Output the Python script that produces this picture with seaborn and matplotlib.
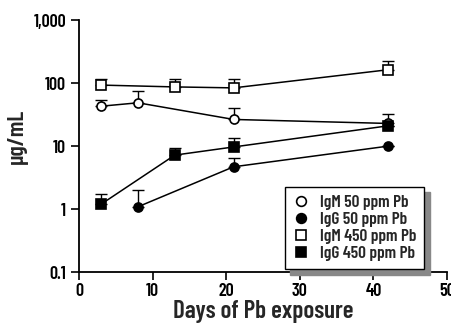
import numpy as np
import pandas as pd
import matplotlib
matplotlib.use("Agg")
import matplotlib.pyplot as plt
from matplotlib.lines import Line2D
import seaborn as sns

# data
igm50_days = [3, 8, 21, 42]
igm50_vals = [43, 48.7, 26.5, 22.9]
igm50_err = [53.7, 74.7, 40.6, 32.2]

igg50_days = [8, 21, 42]
igg50_vals = [1.09, 4.7, 10.0]
igg50_err = [2.0, 6.4, 10.0]

igm450_days = [3, 13, 21, 42]
igm450_vals = [93, 87, 84, 163]
igm450_err = [115, 115, 115, 226]

igg450_days = [3, 13, 21, 42]
igg450_vals = [1.2, 7.2, 9.7, 21.0]
igg450_err = [1.71, 9.2, 13.3, 21.0]

labels = ["IgM 50 ppm Pb", "IgG 50 ppm Pb", "IgM 450 ppm Pb", "IgG 450 ppm Pb"]
x_ticks = [0, 10, 20, 30, 40, 50]
y_ticks = [0.1, 1, 10, 100, 1000]
y_ticklabels = ["0.1", "1", "10", "100", "1,000"]

sns.set_style("ticks")
plt.rcParams['font.family'] = ['Barlow Condensed', 'DejaVu Sans']
plt.rcParams['font.weight'] = 600

fig = plt.figure(figsize=(4.52, 3.24), dpi=100)
ax = fig.add_axes([0.175, 0.160, 0.814, 0.778])

series = [
    (igm50_days, igm50_vals, igm50_err, 'o', 'white'),
    (igg50_days, igg50_vals, igg50_err, 'o', 'black'),
    (igm450_days, igm450_vals, igm450_err, 's', 'white'),
    (igg450_days, igg450_vals, igg450_err, 's', 'black'),
]

for days, vals, err, mk, fc in series:
    vals_a = np.array(vals)
    up = np.array(err) - vals_a
    ax.errorbar(days, vals_a, yerr=[np.zeros_like(up), up], fmt='none',
                ecolor='black', elinewidth=1.0, capsize=4, capthick=1.0, zorder=2)
    df = pd.DataFrame({"day": days, "val": vals})
    sns.lineplot(data=df, x="day", y="val", ax=ax, color='black', linewidth=1.1,
                 marker=mk, markersize=6.5, markerfacecolor=fc,
                 markeredgecolor='black', markeredgewidth=1.2, zorder=3)

ax.set_yscale('log')
ax.set_ylim(0.1, 1000)
ax.set_xlim(0, 50)
ax.set_xticks(x_ticks)
ax.set_xticklabels([str(t) for t in x_ticks])
ax.set_yticks(y_ticks)
ax.set_yticklabels(y_ticklabels)
ax.yaxis.set_minor_locator(matplotlib.ticker.NullLocator())
ax.tick_params(axis='both', direction='out', length=6, width=1.2, labelsize=13, colors='black')
ax.tick_params(axis='x', pad=2)
for s in ['left', 'bottom']:
    ax.spines[s].set_linewidth(1.3)
    ax.spines[s].set_color('black')
sns.despine(ax=ax)
ax.set_xlabel("Days of Pb exposure", fontsize=18, fontweight=600, labelpad=0)
ax.set_ylabel("μg/mL", fontsize=17, fontweight=600)
ax.yaxis.set_label_coords(-0.14, 0.54)

handles = [Line2D([], [], linestyle='none', marker=mk, markersize=7, markerfacecolor=fc,
                  markeredgecolor='black', markeredgewidth=1.2)
           for _, _, _, mk, fc in series]
leg = ax.legend(handles, labels, loc='upper right', bbox_to_anchor=(0.962, 0.373),
                frameon=True, fancybox=False, fontsize=12.5, handlelength=1.0,
                handletextpad=0.6, labelspacing=0.12, borderpad=0.45,
                shadow={'color': '#888888', 'alpha': 1.0, 'ox': 4, 'oy': -4})
leg.get_frame().set_edgecolor('black')
leg.get_frame().set_linewidth(1.0)

fig.savefig("out.png", dpi=100)
